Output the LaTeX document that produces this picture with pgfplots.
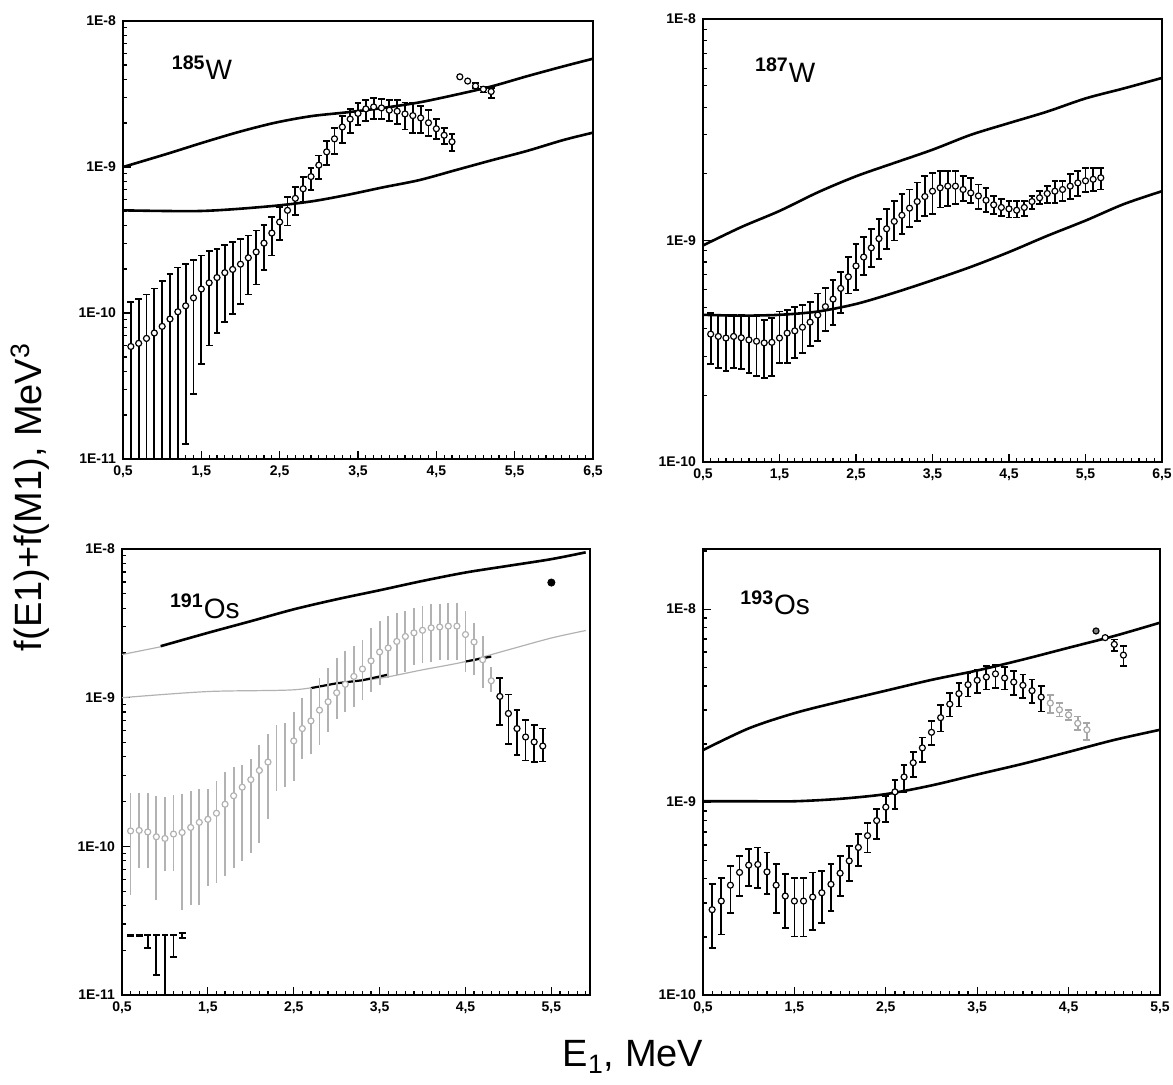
\documentclass[border=0pt]{standalone}
\usepackage{fontspec}
\setmainfont{Liberation Sans}
\usepackage{pgfplots}
\usepackage{pgfplotstable}
\pgfplotsset{compat=1.18}

% 185W: x, value, lower and upper end of the error bar
\pgfplotstableread{
x y lo hi
0.6 5.9e-11 1e-12 1.19e-10
0.7 6.2e-11 1e-12 1.25e-10
0.8 6.7e-11 1e-12 1.34e-10
0.9 7.3e-11 1e-12 1.47e-10
1.0 8.1e-11 1e-12 1.66e-10
1.1 9.1e-11 1e-12 1.86e-10
1.2 1.02e-10 1e-12 2.05e-10
1.3 1.12e-10 1.27e-11 2.16e-10
1.4 1.27e-10 2.8e-11 2.30e-10
1.5 1.46e-10 4.5e-11 2.48e-10
1.6 1.61e-10 6.0e-11 2.66e-10
1.7 1.75e-10 7.3e-11 2.76e-10
1.8 1.89e-10 8.7e-11 2.91e-10
1.9 1.99e-10 9.9e-11 3.06e-10
2.0 2.16e-10 1.16e-10 3.21e-10
2.1 2.39e-10 1.34e-10 3.40e-10
2.2 2.62e-10 1.57e-10 3.68e-10
2.3 3.01e-10 1.96e-10 4.03e-10
2.4 3.53e-10 2.48e-10 4.55e-10
2.5 4.20e-10 3.15e-10 5.32e-10
2.6 5.05e-10 3.98e-10 6.24e-10
2.7 6.1e-10 4.67e-10 7.29e-10
2.8 7.1e-10 5.8e-10 8.5e-10
2.9 8.6e-10 6.97e-10 9.9e-10
3.0 1.03e-9 8.3e-10 1.20e-9
3.1 1.27e-9 1.03e-9 1.51e-9
3.2 1.56e-9 1.23e-9 1.86e-9
3.3 1.88e-9 1.47e-9 2.23e-9
3.4 2.13e-9 1.72e-9 2.50e-9
3.5 2.33e-9 1.93e-9 2.74e-9
3.6 2.50e-9 2.06e-9 2.89e-9
3.7 2.58e-9 2.12e-9 2.97e-9
3.8 2.54e-9 2.12e-9 2.92e-9
3.9 2.45e-9 2.06e-9 2.86e-9
4.0 2.41e-9 1.96e-9 2.89e-9
4.1 2.31e-9 1.81e-9 2.77e-9
4.2 2.25e-9 1.70e-9 2.77e-9
4.3 2.17e-9 1.72e-9 2.63e-9
4.4 2.01e-9 1.63e-9 2.45e-9
4.5 1.83e-9 1.55e-9 2.12e-9
4.6 1.65e-9 1.44e-9 1.86e-9
4.7 1.49e-9 1.29e-9 1.68e-9
5.0 3.59e-9 3.46e-9 3.74e-9
5.1 3.41e-9 3.24e-9 3.56e-9
5.2 3.29e-9 2.96e-9 3.46e-9
}\tWa

% 187W
\pgfplotstableread{
x y lo hi
0.6 3.78e-10 2.76e-10 4.70e-10
0.7 3.69e-10 2.66e-10 4.62e-10
0.8 3.63e-10 2.57e-10 4.62e-10
0.9 3.69e-10 2.66e-10 4.62e-10
1.0 3.64e-10 2.62e-10 4.62e-10
1.1 3.56e-10 2.53e-10 4.54e-10
1.2 3.51e-10 2.44e-10 4.54e-10
1.3 3.45e-10 2.40e-10 4.38e-10
1.4 3.47e-10 2.44e-10 4.46e-10
1.5 3.63e-10 2.80e-10 4.78e-10
1.6 3.82e-10 2.80e-10 4.86e-10
1.7 3.91e-10 2.95e-10 5.03e-10
1.8 4.06e-10 3.11e-10 5.12e-10
1.9 4.28e-10 3.33e-10 5.30e-10
2.0 4.61e-10 3.51e-10 5.77e-10
2.1 5.03e-10 3.89e-10 6.08e-10
2.2 5.44e-10 4.16e-10 6.62e-10
2.3 6.08e-10 4.70e-10 7.22e-10
2.4 6.86e-10 5.77e-10 8.42e-10
2.5 7.68e-10 5.97e-10 9.66e-10
2.6 8.42e-10 6.97e-10 1.035e-9
2.7 9.27e-10 7.60e-10 1.13e-9
2.8 1.02e-9 8.28e-10 1.25e-9
2.9 1.13e-9 9.18e-10 1.39e-9
3.0 1.22e-9 1.00e-9 1.51e-9
3.1 1.30e-9 1.07e-9 1.62e-9
3.2 1.40e-9 1.15e-9 1.70e-9
3.3 1.50e-9 1.23e-9 1.83e-9
3.4 1.58e-9 1.29e-9 1.95e-9
3.5 1.67e-9 1.32e-9 2.02e-9
3.6 1.73e-9 1.41e-9 2.06e-9
3.7 1.76e-9 1.43e-9 2.06e-9
3.8 1.76e-9 1.46e-9 2.06e-9
3.9 1.70e-9 1.51e-9 1.95e-9
4.0 1.64e-9 1.48e-9 1.92e-9
4.1 1.59e-9 1.39e-9 1.79e-9
4.2 1.52e-9 1.34e-9 1.73e-9
4.3 1.45e-9 1.32e-9 1.59e-9
4.4 1.41e-9 1.29e-9 1.54e-9
4.5 1.39e-9 1.27e-9 1.51e-9
4.6 1.37e-9 1.27e-9 1.51e-9
4.7 1.41e-9 1.29e-9 1.51e-9
4.8 1.50e-9 1.39e-9 1.59e-9
4.9 1.56e-9 1.46e-9 1.67e-9
5.0 1.63e-9 1.48e-9 1.76e-9
5.1 1.67e-9 1.48e-9 1.86e-9
5.2 1.70e-9 1.51e-9 1.86e-9
5.3 1.76e-9 1.54e-9 1.99e-9
5.4 1.82e-9 1.59e-9 2.06e-9
5.5 1.86e-9 1.65e-9 2.13e-9
5.6 1.89e-9 1.67e-9 2.13e-9
5.7 1.92e-9 1.70e-9 2.13e-9
}\tWb

% 191Os, faint part of the scan
\pgfplotstableread{
x y lo hi
0.6 1.27e-10 4.73e-11 2.29e-10
0.7 1.28e-10 7.18e-11 2.29e-10
0.8 1.25e-10 7.18e-11 2.29e-10
0.9 1.16e-10 4.38e-11 2.17e-10
1.0 1.13e-10 6.8e-11 2.15e-10
1.1 1.21e-10 6.8e-11 2.20e-10
1.2 1.24e-10 3.74e-11 2.25e-10
1.3 1.34e-10 4.05e-11 2.37e-10
1.4 1.45e-10 4.05e-11 2.43e-10
1.5 1.52e-10 5.38e-11 2.43e-10
1.6 1.67e-10 5.67e-11 2.77e-10
1.7 1.92e-10 6.30e-11 3.16e-10
1.8 2.19e-10 7.18e-11 3.41e-10
1.9 2.50e-10 7.96e-11 3.50e-10
2.0 2.81e-10 9.06e-11 3.88e-10
2.1 3.24e-10 1.06e-10 4.78e-10
2.2 3.69e-10 1.52e-10 5.73e-10
2.5 5.12e-10 2.77e-10 8.04e-10
2.6 6.20e-10 3.88e-10 9.89e-10
2.7 6.98e-10 4.20e-10 1.16e-9
2.8 8.24e-10 4.78e-10 1.35e-9
2.9 9.39e-10 5.89e-10 1.58e-9
3.0 1.08e-9 7.24e-10 1.85e-9
3.1 1.23e-9 8.04e-10 2.05e-9
3.2 1.39e-9 8.69e-10 2.21e-9
3.3 1.56e-9 9.64e-10 2.46e-9
3.4 1.77e-9 1.10e-9 2.95e-9
3.5 2.03e-9 1.22e-9 3.27e-9
3.6 2.16e-9 1.35e-9 3.54e-9
3.7 2.39e-9 1.42e-9 3.73e-9
3.8 2.58e-9 1.50e-9 3.82e-9
3.9 2.73e-9 1.66e-9 4.03e-9
4.0 2.84e-9 1.71e-9 4.13e-9
4.1 2.95e-9 1.75e-9 4.24e-9
4.2 2.99e-9 1.78e-9 4.28e-9
4.3 3.03e-9 1.80e-9 4.35e-9
4.4 3.03e-9 1.80e-9 4.35e-9
4.5 2.66e-9 1.50e-9 3.82e-9
4.6 2.37e-9 1.42e-9 3.19e-9
4.7 1.80e-9 1.16e-9 2.59e-9
4.8 1.30e-9 1.10e-9 1.62e-9
}\tOsa

\pgfplotstableread{
x y lo hi
2.3 4.2e-10 2.37e-10 6.53e-10
2.4 4.6e-10 2.50e-10 6.80e-10
}\tOsgap

\pgfplotstableread{
x y lo hi
4.9 1.02e-9 6.53e-10 1.35e-9
5.0 7.83e-10 4.91e-10 1.05e-9
5.1 6.20e-10 4.13e-10 8.24e-10
5.2 5.44e-10 3.78e-10 7.06e-10
5.3 5.04e-10 3.69e-10 6.53e-10
5.4 4.73e-10 3.72e-10 6.20e-10
}\tOsb

% bar ends left in the lower left corner of the 191Os scan
\pgfplotstableread{
x y lo hi
0.6 2.54e-11 2.50e-11 2.54e-11
0.7 2.54e-11 2.50e-11 2.54e-11
0.8 2.54e-11 2.06e-11 2.54e-11
0.9 2.54e-11 1.36e-11 2.54e-11
1.0 2.54e-11 1e-12 2.54e-11
1.1 2.54e-11 1.81e-11 2.54e-11
1.2 2.60e-11 2.41e-11 2.60e-11
}\tOsfrag

% 193Os
\pgfplotstableread{
x y lo hi
0.6 2.77e-10 1.75e-10 3.75e-10
0.7 3.07e-10 2.06e-10 4.06e-10
0.8 3.71e-10 2.67e-10 4.68e-10
0.9 4.32e-10 3.26e-10 5.27e-10
1.0 4.71e-10 3.67e-10 5.71e-10
1.1 4.75e-10 3.60e-10 5.82e-10
1.2 4.35e-10 3.33e-10 5.48e-10
1.3 3.71e-10 2.67e-10 4.77e-10
1.4 3.26e-10 2.23e-10 4.23e-10
1.5 3.07e-10 2.01e-10 4.06e-10
1.6 3.07e-10 2.01e-10 4.06e-10
1.7 3.22e-10 2.18e-10 4.32e-10
1.8 3.39e-10 2.37e-10 4.40e-10
1.9 3.75e-10 2.72e-10 4.77e-10
2.0 4.28e-10 3.26e-10 5.27e-10
2.1 4.96e-10 3.90e-10 5.94e-10
2.2 5.82e-10 4.68e-10 6.84e-10
2.3 6.70e-10 5.48e-10 7.80e-10
2.4 8.02e-10 6.44e-10 9.23e-10
2.5 9.42e-10 7.87e-10 1.08e-9
2.6 1.13e-9 9.23e-10 1.30e-9
2.7 1.35e-9 1.13e-9 1.55e-9
2.8 1.60e-9 1.35e-9 1.82e-9
2.9 1.91e-9 1.62e-9 2.16e-9
3.0 2.30e-9 1.98e-9 2.64e-9
3.1 2.74e-9 2.32e-9 3.19e-9
3.2 3.22e-9 2.78e-9 3.67e-9
3.3 3.65e-9 3.13e-9 4.14e-9
3.4 4.06e-9 3.53e-9 4.67e-9
3.5 4.28e-9 3.67e-9 4.86e-9
3.6 4.45e-9 3.83e-9 5.06e-9
3.7 4.62e-9 3.90e-9 5.16e-9
3.8 4.40e-9 3.83e-9 5.00e-9
3.9 4.19e-9 3.60e-9 4.77e-9
4.0 4.03e-9 3.46e-9 4.58e-9
4.1 3.78e-9 3.26e-9 4.32e-9
4.2 3.50e-9 2.95e-9 3.98e-9
5.0 6.57e-9 6.07e-9 6.97e-9
5.1 5.78e-9 5.06e-9 6.44e-9
}\tOsc

\pgfplotstableread{
x y lo hi
4.3 3.26e-9 2.89e-9 3.60e-9
4.4 3.01e-9 2.78e-9 3.26e-9
4.5 2.83e-9 2.67e-9 3.01e-9
4.6 2.56e-9 2.37e-9 2.78e-9
4.7 2.37e-9 2.10e-9 2.56e-9
}\tOsd

\pgfplotsset{
  table/errtab/.style={x=x, y=y,
    y error plus expr=\thisrow{hi}-\thisrow{y},
    y error minus expr=\thisrow{y}-\thisrow{lo}},
  panel/.style={
    scale only axis, anchor=south west,
    axis line style={line width=1pt},
    tick align=inside, xtick pos=left, ytick pos=left,
    major tick length=4pt, minor tick length=2pt,
    tick style={black, line width=0.6pt},
    ticklabel style={font=\fontsize{7}{8}\selectfont\bfseries},
    xtick={0.5,1.5,2.5,3.5,4.5,5.5,6.5},
    xticklabels={{0,5},{1,5},{2,5},{3,5},{4,5},{5,5},{6,5}},
    minor x tick num=9,
    xmin=0.5,
  },
  dec3/.style={
    ymin=1e-11, ymax=1e-8,
    ytick={1e-11,1e-10,1e-9,1e-8},
    yticklabels={1E-11,1E-10,1E-9,1E-8},
    minor ytick={2e-11,3e-11,4e-11,5e-11,6e-11,7e-11,8e-11,9e-11,
      2e-10,3e-10,4e-10,5e-10,6e-10,7e-10,8e-10,9e-10,
      2e-9,3e-9,4e-9,5e-9,6e-9,7e-9,8e-9,9e-9},
  },
  dec2/.style={
    ytick={1e-10,1e-9,1e-8},
    yticklabels={1E-10,1E-9,1E-8},
    minor ytick={2e-10,3e-10,4e-10,5e-10,6e-10,7e-10,8e-10,9e-10,
      2e-9,3e-9,4e-9,5e-9,6e-9,7e-9,8e-9,9e-9,2e-8},
  },
  curve/.style={black, line width=1.3pt, smooth, mark=none},
  bars/.style={
    error bars/y dir=both, error bars/y explicit,
    error bars/error bar style={#1, line width=0.9pt},
    error bars/error mark options={#1, rotate=90, mark size=1.7pt, line width=0.9pt}},
  bars/.default=black,
  pts/.style={only marks, mark=*, mark size=1.5pt, #1,
    mark options={fill=white, draw=#1, line width=0.6pt}, bars=#1},
  pts/.default=black,
}
\tikzset{nucl/.style={font=\fontsize{14}{16}\selectfont}}
\newcommand{\iso}[2]{\textsuperscript{\textbf{#1}}#2}

\begin{document}
\begin{tikzpicture}
\path[use as bounding box] (0,0) rectangle (586.5pt,542pt);

% ---------- 185W ----------
\begin{semilogyaxis}[panel, dec3, at={(61.5pt,312.5pt)}, width=235pt, height=219pt, xmax=6.5]
  \addplot[curve] coordinates {(0.5,1.0e-9) (1.06,1.23e-9) (1.52,1.47e-9) (1.98,1.74e-9)
    (2.44,2.01e-9) (2.9,2.23e-9) (3.36,2.37e-9) (3.82,2.54e-9) (4.28,2.77e-9)
    (4.74,3.12e-9) (5.2,3.56e-9) (5.66,4.19e-9) (6.12,4.89e-9) (6.5,5.52e-9)};
  \addplot[curve] coordinates {(0.5,5.05e-10) (1.5,5.0e-10) (2.35,5.37e-10) (2.9,5.81e-10)
    (3.36,6.44e-10) (3.82,7.26e-10) (4.28,8.13e-10) (4.74,9.5e-10) (5.2,1.11e-9)
    (5.66,1.29e-9) (6.12,1.53e-9) (6.5,1.72e-9)};
  \addplot[pts] table[errtab] {\tWa};
  \addplot[only marks, mark=*, mark size=1.5pt, mark options={fill=white, draw=black, line width=0.6pt}]
    coordinates {(4.8,4.15e-9) (4.9,3.88e-9)};
  \node[nucl] at (rel axis cs:0.168,0.893) {\iso{185}{W}};
\end{semilogyaxis}

% ---------- 187W ----------
\begin{semilogyaxis}[panel, dec2, at={(351.5pt,311pt)}, width=229.5pt, height=221.5pt,
  xmax=6.5, ymin=1e-10, ymax=1e-8]
  \addplot[curve] coordinates {(0.5,9.5e-10) (1.0,1.15e-9) (1.5,1.36e-9) (2.0,1.65e-9)
    (2.5,1.95e-9) (3.0,2.24e-9) (3.5,2.57e-9) (4.0,3.0e-9) (4.5,3.39e-9)
    (5.0,3.82e-9) (5.5,4.38e-9) (6.0,4.86e-9) (6.5,5.42e-9)};
  \addplot[curve] coordinates {(0.5,4.62e-10) (1.0,4.58e-10) (1.5,4.62e-10) (2.0,4.78e-10)
    (2.5,5.17e-10) (3.0,5.81e-10) (3.5,6.62e-10) (4.0,7.6e-10) (4.5,8.87e-10)
    (5.0,1.05e-9) (5.5,1.23e-9) (6.0,1.46e-9) (6.5,1.67e-9)};
  \addplot[pts] table[errtab] {\tWb};
  \node[nucl] at (rel axis cs:0.179,0.885) {\iso{187}{W}};
\end{semilogyaxis}

% ---------- 191Os ----------
\begin{semilogyaxis}[panel, dec3, at={(61pt,44.5pt)}, width=234pt, height=223pt, xmax=5.95]
  \addplot[gray!60, line width=0.6pt, smooth] coordinates {(0.5,1.95e-9) (0.95,2.2e-9)};
  \addplot[curve] coordinates {(0.95,2.22e-9) (1.5,2.73e-9) (2.0,3.27e-9) (2.5,3.93e-9)
    (3.0,4.59e-9) (3.5,5.28e-9) (4.0,6.10e-9) (4.5,6.95e-9) (5.0,7.71e-9)
    (5.5,8.55e-9) (5.9,9.5e-9)};
  \addplot[gray!60, line width=0.6pt, smooth] coordinates {(0.5,1.0e-9) (1.5,1.10e-9) (2.5,1.13e-9)
    (3.0,1.25e-9) (3.5,1.35e-9) (4.0,1.54e-9) (4.5,1.75e-9) (5.0,2.10e-9)
    (5.5,2.52e-9) (5.9,2.83e-9)};
  \addplot[black, line width=1.1pt] coordinates {(2.7,1.16e-9) (3.0,1.25e-9) (3.3,1.31e-9) (3.6,1.43e-9)};
  \addplot[black, line width=1.1pt] coordinates {(4.5,1.75e-9) (4.8,1.89e-9)};
  \addplot[pts=gray!60, error bars/error mark=none] table[errtab] {\tOsa};
  \addplot[draw=none, mark=none, bars=gray!60, error bars/error mark=none] table[errtab] {\tOsgap};
  \addplot[pts] table[errtab] {\tOsb};
  \addplot[draw=none, mark=none, bars] table[errtab] {\tOsfrag};
  \addplot[only marks, mark=*, mark size=1.8pt, black] coordinates {(5.5,5.95e-9)};
  \node[nucl] at (rel axis cs:0.177,0.872) {\iso{191}{Os}};
\end{semilogyaxis}

% ---------- 193Os ----------
\begin{semilogyaxis}[panel, dec2, at={(351.5pt,44.5pt)}, width=228.5pt, height=223pt,
  xmax=5.5, ymin=1e-10, ymax=2.05e-8]
  \addplot[curve] coordinates {(0.5,1.86e-9) (1.0,2.41e-9) (1.5,2.89e-9) (2.0,3.32e-9)
    (2.5,3.78e-9) (3.0,4.30e-9) (3.5,4.81e-9) (4.0,5.48e-9) (4.5,6.31e-9)
    (5.0,7.26e-9) (5.5,8.51e-9)};
  \addplot[curve] coordinates {(0.5,1.01e-9) (1.0,1.01e-9) (1.5,1.01e-9) (2.0,1.04e-9)
    (2.5,1.10e-9) (3.0,1.22e-9) (3.5,1.39e-9) (4.0,1.58e-9) (4.5,1.82e-9)
    (5.0,2.10e-9) (5.5,2.37e-9)};
  \addplot[pts] table[errtab] {\tOsc};
  \addplot[pts=gray!70] table[errtab] {\tOsd};
  \addplot[only marks, mark=*, mark size=1.5pt, mark options={fill=white, draw=black, line width=0.6pt}]
    coordinates {(4.9,7.12e-9)};
  \addplot[only marks, mark=*, mark size=1.5pt, mark options={fill=gray, draw=black, line width=0.6pt}]
    coordinates {(4.8,7.71e-9)};
  \node[nucl] at (rel axis cs:0.158,0.879) {\iso{193}{Os}};
\end{semilogyaxis}

% common axis titles
\node[rotate=90, font=\fontsize{19}{22}\selectfont] at (15pt,293.5pt) {f(E1)+f(M1), MeV\textsuperscript{3}};
\node[font=\fontsize{19}{22}\selectfont] at (316.5pt,13.5pt) {E\textsubscript{1}, MeV};
\end{tikzpicture}
\end{document}
